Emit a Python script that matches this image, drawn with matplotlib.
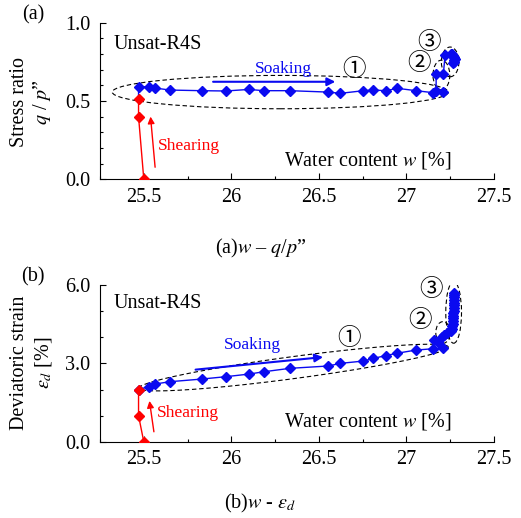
import matplotlib
matplotlib.use("Agg")
import matplotlib.pyplot as plt
import numpy as np
from matplotlib.patches import Ellipse
from matplotlib.ticker import MultipleLocator, FormatStrFormatter

plt.rcParams["font.family"] = ["Liberation Serif", "DejaVu Serif"]
plt.rcParams["mathtext.fontset"] = "stix"

BLUE = "#0a0af0"
RED = "#ff0000"

# shearing stage (red)
shear_w = [25.50, 25.47, 25.47]
shear_q = [0.0, 0.40, 0.51]
shear_e = [0.0, 1.00, 1.98]

# soaking stage 1 (shared water content)
soak_w = [25.47, 25.527, 25.563, 25.650, 25.830, 25.967, 26.100, 26.186, 26.334,
          26.554, 26.623, 26.755, 26.812, 26.883, 26.949, 27.056, 27.154, 27.208]
soak_q = [0.591, 0.591, 0.583, 0.570, 0.566, 0.564, 0.574, 0.566, 0.566,
          0.557, 0.549, 0.566, 0.570, 0.566, 0.581, 0.566, 0.553, 0.555]
soak_e = [2.00, 2.11, 2.21, 2.30, 2.40, 2.49, 2.59, 2.68, 2.81,
          2.90, 3.00, 3.09, 3.19, 3.30, 3.39, 3.51, 3.56, 3.58]

# stages 2 and 3, panel (a)
late_w_a = [27.17, 27.17, 27.211, 27.221, 27.255, 27.262, 27.268, 27.272,
            27.275, 27.274, 27.270, 27.265]
late_q_a = [0.565, 0.670, 0.670, 0.793, 0.800, 0.798, 0.790, 0.780,
            0.770, 0.760, 0.750, 0.740]

# stages 2 and 3, panel (b)
late_w_b = [27.16, 27.18, 27.205, 27.215, 27.23, 27.255, 27.258, 27.262,
            27.264, 27.266, 27.266, 27.268, 27.268, 27.27, 27.27, 27.27,
            27.27, 27.27, 27.27, 27.27, 27.27]
late_e_b = [3.88, 3.80, 4.02, 4.10, 4.16, 4.22, 4.32, 4.42, 4.52, 4.62,
            4.72, 4.82, 4.92, 5.02, 5.12, 5.22, 5.32, 5.42, 5.52, 5.62, 5.70]


def style_axes(ax, ymax, ymajor, yminor):
    ax.set_xlim(25.25, 27.5)
    ax.set_ylim(0, ymax)
    ax.spines["top"].set_visible(False)
    ax.spines["right"].set_visible(False)
    ax.spines["left"].set_linewidth(0.8)
    ax.spines["bottom"].set_linewidth(0.8)
    ax.xaxis.set_major_locator(MultipleLocator(0.5))
    ax.xaxis.set_minor_locator(MultipleLocator(0.25))
    ax.yaxis.set_major_locator(MultipleLocator(ymajor))
    ax.yaxis.set_minor_locator(MultipleLocator(yminor))
    ax.yaxis.set_major_formatter(FormatStrFormatter("%.1f"))
    ax.set_xticks([25.5, 26, 26.5, 27, 27.5])
    ax.set_xticklabels(["25.5", "26", "26.5", "27", "27.5"])
    ax.tick_params(which="both", direction="in", labelsize=14.5, width=0.8)
    ax.tick_params(which="major", length=4.5)
    ax.tick_params(which="minor", length=2.5)
    ax.tick_params(axis="x", pad=6)
    ax.tick_params(axis="y", pad=7)


def dashed_ellipse(ax, cx, cy, w, h):
    ax.add_patch(Ellipse((cx, cy), w, h, fill=False, ls=(0, (4, 2.5)),
                         lw=0.8, ec="black"))


def tilted_ellipse(ax, fig, cx, cy, a_px, b_px, angle_deg):
    pos = ax.get_position()
    w_px = pos.width * fig.get_figwidth() * fig.dpi
    h_px = pos.height * fig.get_figheight() * fig.dpi
    x0, x1 = ax.get_xlim()
    y0, y1 = ax.get_ylim()
    sx = w_px / (x1 - x0)
    sy = h_px / (y1 - y0)
    t = np.linspace(0, 2 * np.pi, 300)
    th = np.deg2rad(angle_deg)
    px = a_px * np.cos(t) * np.cos(th) - b_px * np.sin(t) * np.sin(th)
    py = a_px * np.cos(t) * np.sin(th) + b_px * np.sin(t) * np.cos(th)
    ax.plot(cx + px / sx, cy + py / sy, ls=(0, (4, 2.5)), lw=0.8, color="black")


def draw_series(ax, yshear, ysoak, late_w, late_y):
    ax.plot(shear_w, yshear, color=RED, lw=1.0, marker="D", ms=5, zorder=4)
    line_w = [shear_w[-1]] + soak_w + late_w
    line_y = [yshear[-1]] + ysoak + late_y
    ax.plot(line_w, line_y, color=BLUE, lw=1.0, marker="D", ms=5,
            markevery=slice(1, None), zorder=3)


fig = plt.figure(figsize=(5.21, 5.18), dpi=100)
ax1 = fig.add_axes([0.192, 0.654, 0.756, 0.302])
ax2 = fig.add_axes([0.192, 0.147, 0.756, 0.303])

style_axes(ax1, 1.0, 0.5, 0.1)
style_axes(ax2, 6.0, 3.0, 1.0)

draw_series(ax1, shear_q, soak_q, late_w_a, late_q_a)
draw_series(ax2, shear_e, soak_e, late_w_b, late_e_b)

circ = ["Noto Sans CJK JP", "DejaVu Sans"]
CS = 17

# panel (a) annotations
dashed_ellipse(ax1, 26.28, 0.557, 1.92, 0.213)
dashed_ellipse(ax1, 27.20, 0.666, 0.096, 0.19)
dashed_ellipse(ax1, 27.25, 0.75, 0.10, 0.19)
ax1.text(26.70, 0.70, "①", fontsize=CS, family=circ, ha="center", va="center")
ax1.text(27.07, 0.74, "②", fontsize=CS, family=circ, ha="center", va="center")
ax1.text(27.13, 0.875, "③", fontsize=CS, family=circ, ha="center", va="center")
ax1.annotate("", xy=(26.61, 0.623), xytext=(25.88, 0.623),
             arrowprops=dict(arrowstyle="-|>", color=BLUE, lw=1.5,
                             mutation_scale=12))
ax1.text(26.30, 0.705, "Soaking", color=BLUE, fontsize=12.5,
         ha="center", va="center")
ax1.annotate("", xy=(25.537, 0.418), xytext=(25.566, 0.059),
             arrowprops=dict(arrowstyle="-|>", color=RED, lw=1.0,
                             mutation_scale=10))
ax1.text(25.76, 0.21, "Shearing", color=RED, fontsize=12.5,
         ha="center", va="center")
ax1.text(25.33, 0.86, "Unsat-R4S", fontsize=14.5, ha="left", va="center")
ax1.text(27.26, 0.12, "Water content $w$ [%]", fontsize=14.5,
         ha="right", va="center")

# panel (b) annotations
tilted_ellipse(ax2, fig, 26.356, 2.84, 156, 11, 7.6)
dashed_ellipse(ax2, 27.209, 4.18, 0.082, 0.83)
dashed_ellipse(ax2, 27.27, 4.95, 0.09, 2.36)
ax2.text(26.67, 3.95, "①", fontsize=CS, family=circ, ha="center", va="center")
ax2.text(27.08, 4.65, "②", fontsize=CS, family=circ, ha="center", va="center")
ax2.text(27.14, 5.81, "③", fontsize=CS, family=circ, ha="center", va="center")
ax2.annotate("", xy=(26.54, 3.25), xytext=(25.78, 2.75),
             arrowprops=dict(arrowstyle="-|>", color=BLUE, lw=1.5,
                             mutation_scale=12))
ax2.text(26.12, 3.70, "Soaking", color=BLUE, fontsize=12.5,
         ha="center", va="center")
ax2.annotate("", xy=(25.53, 1.67), xytext=(25.56, 0.28),
             arrowprops=dict(arrowstyle="-|>", color=RED, lw=1.0,
                             mutation_scale=10))
ax2.text(25.75, 1.10, "Shearing", color=RED, fontsize=12.5,
         ha="center", va="center")
ax2.text(25.33, 5.28, "Unsat-R4S", fontsize=14.5, ha="left", va="center")
ax2.text(27.26, 0.76, "Water content $w$ [%]", fontsize=14.5,
         ha="right", va="center")

# axis titles, panel letters, captions
fig.text(0.038, 0.803, "Stress ratio", rotation=90, fontsize=14.5,
         ha="center", va="center")
fig.text(0.080, 0.803, "$q$ / $p$\u201d", rotation=90, fontsize=14.5,
         ha="center", va="center")
fig.text(0.038, 0.299, "Deviatoric strain", rotation=90, fontsize=14.5,
         ha="center", va="center")
fig.text(0.084, 0.299, r"$\varepsilon_d$ [%]", rotation=90, fontsize=14.5,
         ha="center", va="center")
fig.text(0.063, 0.971, "(a)", fontsize=14.5, ha="center", va="center")
fig.text(0.063, 0.466, "(b)", fontsize=14.5, ha="center", va="center")
fig.text(0.50, 0.521, "(a)$w$ \u2013 $q$/$p$\u201d", fontsize=14.5,
         ha="center", va="center")
fig.text(0.50, 0.006, r"(b)$w$ - $\varepsilon_d$", fontsize=14.5,
         ha="center", va="bottom")

fig.savefig("out.png", dpi=100)
